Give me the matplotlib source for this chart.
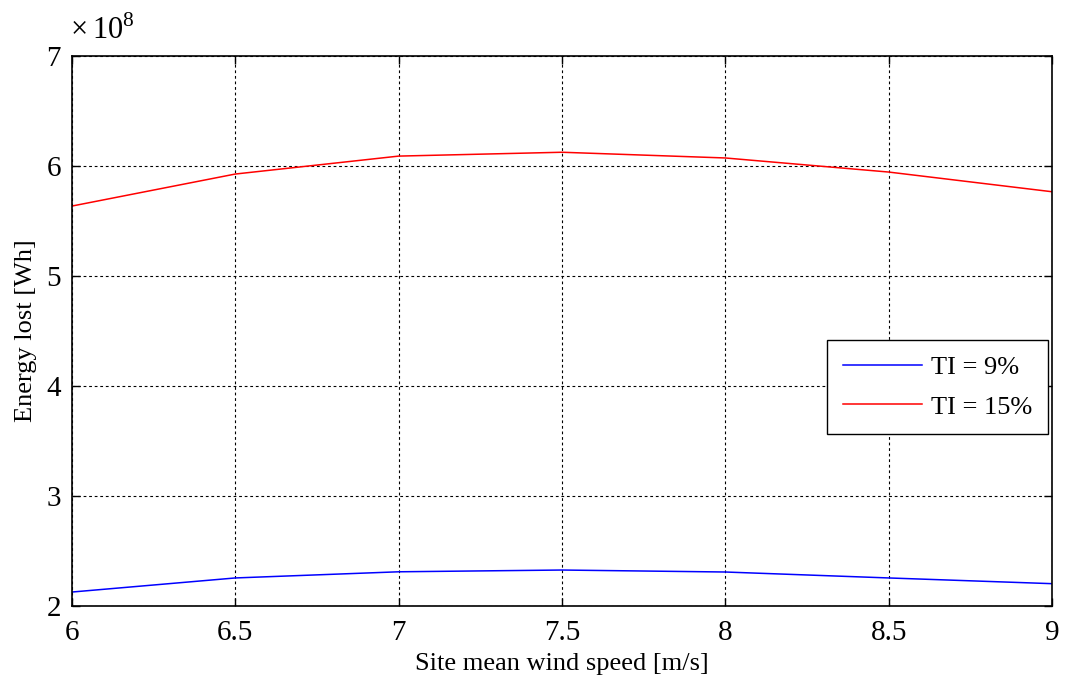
import matplotlib
matplotlib.use("Agg")
import matplotlib.pyplot as plt
from matplotlib.ticker import FuncFormatter, MultipleLocator

plt.rcParams['font.family'] = ['Liberation Serif', 'DejaVu Serif']
plt.rcParams['mathtext.fontset'] = 'custom'
plt.rcParams['mathtext.rm'] = 'Liberation Serif'

wind_speed = [6.0, 6.5, 7.0, 7.5, 8.0, 8.5, 9.0]
energy_ti9 = [2.127e8, 2.255e8, 2.311e8, 2.327e8, 2.309e8, 2.255e8, 2.203e8]
energy_ti15 = [5.636e8, 5.927e8, 6.090e8, 6.125e8, 6.073e8, 5.945e8, 5.766e8]
labels = ['TI = 9%', 'TI = 15%']
scale = 1e8

fig = plt.figure(figsize=(10.67, 6.79), dpi=100)
ax = fig.add_axes([72/1067, 1 - 606/679, (1052-72)/1067, (606-56)/679])

ax.plot(wind_speed, energy_ti9, color='#0000ff', lw=1.1, label=labels[0])
ax.plot(wind_speed, energy_ti15, color='#ff0000', lw=1.1, label=labels[1])

ax.set_xlim(6, 9)
ax.set_ylim(2e8, 7e8)
ax.xaxis.set_major_locator(MultipleLocator(0.5))
ax.yaxis.set_major_locator(MultipleLocator(1e8))
ax.xaxis.set_major_formatter(FuncFormatter(lambda v, p: f"{v:g}"))
ax.yaxis.set_major_formatter(FuncFormatter(lambda v, p: f"{v/scale:g}"))

ax.grid(True, color='black', linestyle=(0, (2.5, 2.5)), linewidth=0.8)
ax.tick_params(direction='in', length=6, width=1, top=True, right=True,
               labelsize=21, colors='black')
ax.tick_params(axis='x', pad=10)
ax.tick_params(axis='y', pad=8)
for s in ax.spines.values():
    s.set_linewidth(1.2)

ax.set_xlabel('Site mean wind speed [m/s]', fontsize=19, labelpad=5)
ax.set_ylabel('Energy lost [Wh]', fontsize=19, labelpad=7)

ax.text(-0.002, 1.018, r'$\times\,10^{8}$', transform=ax.transAxes,
        fontsize=22, ha='left', va='bottom')

leg = ax.legend(loc='upper left', bbox_to_anchor=((827-72)/980, 1 - (340-56)/550),
                borderaxespad=0, fontsize=19, frameon=True, fancybox=False,
                edgecolor='black', handlelength=3.0, handletextpad=0.35,
                borderpad=0.6, labelspacing=0.6)
leg.get_frame().set_linewidth(1.0)
leg.get_frame().set_alpha(1)

fig.savefig('out.png', dpi=100)
